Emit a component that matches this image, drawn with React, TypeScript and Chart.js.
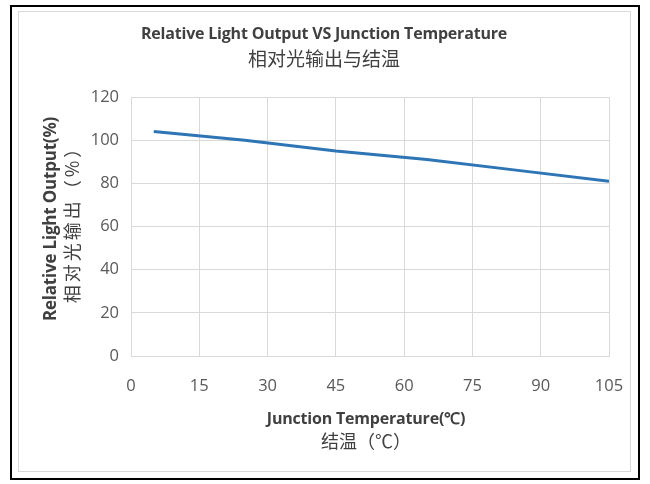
import React, { useEffect, useRef } from "react";
import { Chart, registerables } from "chart.js";

Chart.register(...registerables);

const temperatures = [5, 25, 45, 65, 85, 105];
const lightOutput = [104, 100, 95, 91, 86, 81];
const xTickStep = 15;
const yTickStep = 20;
const xMin = 0;
const xMax = 105;
const yMin = 0;
const yMax = 120;

const titleEn = "Relative Light Output VS Junction Temperature";
const titleZh = "相对光输出与结温";
const xTitleEn = "Junction Temperature(℃)";
const xTitleZh = "结温（℃）";
const yTitleEn = "Relative Light Output(%)";
const yTitleZh = "相对光输出（%）";

const TEXT = "#595959";
const DARK = "#404040";
const GRID = "#d9d9d9";
const LINE = "#2e75b6";

export default function App() {
  const ref = useRef<HTMLCanvasElement | null>(null);

  useEffect(() => {
    if (!ref.current) return;
    const chart = new Chart(ref.current, {
      type: "line",
      data: {
        datasets: [
          {
            data: temperatures.map((t, i) => ({ x: t, y: lightOutput[i] })),
            borderColor: LINE,
            backgroundColor: LINE,
            borderWidth: 3,
            pointRadius: 0,
            tension: 0,
            fill: false,
          },
        ],
      },
      options: {
        animation: false,
        responsive: false,
        layout: { padding: { top: 97, right: 41, bottom: 88, left: 0 } },
        plugins: { legend: { display: false }, tooltip: { enabled: false }, title: { display: false } },
        scales: {
          x: {
            type: "linear",
            min: xMin,
            max: xMax,
            afterFit: (s: any) => {
              s.height = 40;
            },
            ticks: {
              stepSize: xTickStep,
              padding: 20,
              color: TEXT,
              font: { family: "'Open Sans'", size: 16.5 },
            },
            grid: { color: GRID, lineWidth: 1, drawTicks: false },
            border: { color: GRID, width: 1 },
          },
          y: {
            type: "linear",
            min: yMin,
            max: yMax,
            afterFit: (s: any) => {
              s.width = 131;
            },
            ticks: {
              stepSize: yTickStep,
              padding: 12,
              color: TEXT,
              font: { family: "'Open Sans'", size: 16.5 },
            },
            grid: { color: GRID, lineWidth: 1, drawTicks: false },
            border: { color: GRID, width: 1 },
          },
        },
      },
    });
    return () => chart.destroy();
  }, []);

  const abs: React.CSSProperties = { position: "absolute", whiteSpace: "nowrap", lineHeight: 1 };
  const en: React.CSSProperties = { fontFamily: "'Open Sans'", fontWeight: 700, fontSize: 16, color: DARK, letterSpacing: -0.2 };
  const zh: React.CSSProperties = { fontFamily: "'Noto Sans CJK SC'", fontWeight: 400, fontSize: 18, color: DARK };

  return (
    <div style={{ position: "absolute", left: 0, top: 0, width: 650, height: 484, background: "#fff", overflow: "hidden" }}>
      <div style={{ position: "absolute", left: 10, top: 5, width: 626, height: 471, border: "2px solid #000" }} />
      <div style={{ position: "absolute", left: 18, top: 11, width: 611, height: 459, border: "1px solid #d9d9d9" }} />
      <canvas ref={ref} width={650} height={484} style={{ position: "absolute", left: 0, top: 0, width: 650, height: 484 }} />
      <div style={{ ...abs, ...en, left: 324, top: 33, transform: "translate(-50%,-50%)" }}>{titleEn}</div>
      <div style={{ ...abs, ...zh, fontSize: 19, left: 324, top: 57, transform: "translate(-50%,-50%)" }}>{titleZh}</div>
      <div style={{ ...abs, ...en, left: 366, top: 418, transform: "translate(-50%,-50%)" }}>{xTitleEn}</div>
      <div style={{ ...abs, ...zh, left: 366, top: 440, transform: "translate(-50%,-50%)" }}>{xTitleZh}</div>
      <div style={{ ...abs, ...en, fontSize: 17, left: 49, top: 219, transform: "translate(-50%,-50%) rotate(-90deg)" }}>{yTitleEn}</div>
      <div style={{ ...abs, ...zh, left: 71, top: 220, letterSpacing: 3, transform: "translate(-50%,-50%) rotate(-90deg)" }}>{yTitleZh}</div>
    </div>
  );
}
